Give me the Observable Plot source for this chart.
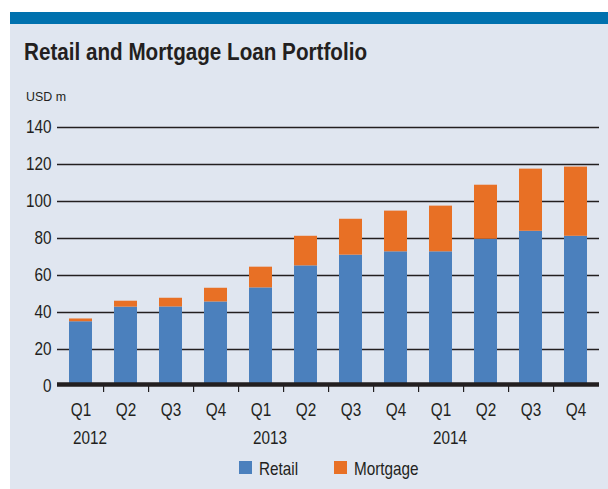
<!DOCTYPE html>
<html>
<head>
<meta charset="utf-8">
<script src="https://cdn.jsdelivr.net/npm/d3@7"></script>
<script src="https://cdn.jsdelivr.net/npm/@observablehq/plot@0.6"></script>
<style>
  html, body { margin: 0; padding: 0; background: #ffffff; }
  body { width: 608px; height: 489px; position: relative; overflow: hidden;
         font-family: "Liberation Sans", Arial, sans-serif; color: #231f20; }
  #panel { position: absolute; left: 10px; top: 12px; width: 598px; height: 477px; background: #e0e6f0; }
  #topbar { position: absolute; left: 10px; top: 12px; width: 598px; height: 12px; background: #0071ae; }
  .cond { position: absolute; line-height: 1; white-space: nowrap; transform-origin: 0 0; }
  #title { left: 24px; top: 41px; font-size: 23.5px; font-weight: bold; }
  #unit { left: 26px; top: 91px; font-size: 12.5px; }
  #chart { position: absolute; left: 0; top: 0; }
</style>
</head>
<body>
<div id="panel"></div>
<div id="topbar"></div>
<div id="title" class="cond">Retail and Mortgage Loan Portfolio</div>
<div id="unit" class="cond">USD m</div>
<div id="chart"></div>
<script>
const quarters = ["Q1","Q2","Q3","Q4","Q1","Q2","Q3","Q4","Q1","Q2","Q3","Q4"];
const years = ["2012","2012","2012","2012","2013","2013","2013","2013","2014","2014","2014","2014"];
const retail =   [35.0, 42.9, 43.0, 45.7, 53.3, 65.2, 71.0, 72.8, 72.8, 79.6, 83.9, 81.2];
const mortgage = [ 1.5,  3.2,  4.7,  7.4, 11.2, 16.0, 19.4, 22.0, 24.7, 29.2, 33.6, 37.4];
const seriesNames = ["Retail", "Mortgage"];
const seriesColors = ["#4b80bd", "#e87025"];
const yTicks = [0, 20, 40, 60, 80, 100, 120, 140];
const yearLabels = ["2012", "2013", "2014"];

const keys = quarters.map((q, i) => years[i] + " " + q);
const data = [];
keys.forEach((k, i) => {
  data.push({key: k, series: "Retail", value: retail[i]});
  data.push({key: k, series: "Mortgage", value: mortgage[i]});
});
const yearFirst = yearLabels.map(y => ({key: keys[years.indexOf(y)], year: y}));

const W = 608, H = 489, mL = 57, mR = 9;
const step = (W - mL - mR) / keys.length;
const ink = "#231f20";
const font = '"Liberation Sans", Arial, sans-serif';
const narrow = 0.85;

const chart = Plot.plot({
  width: W,
  height: H,
  marginLeft: mL,
  marginRight: mR,
  marginTop: 127,
  marginBottom: 103,
  style: {background: "transparent", fontFamily: font, fontSize: "18px", color: ink},
  x: {domain: keys, paddingInner: 0.49, paddingOuter: 0.245, axis: null},
  y: {domain: [0, 140], ticks: yTicks, axis: null},
  color: {domain: seriesNames, range: seriesColors},
  marks: [
    Plot.ruleY(yTicks.filter(d => d > 0), {stroke: ink, strokeWidth: 1.3}),
    Plot.barY(data, {x: "key", y: "value", fill: "series", order: seriesNames}),
    Plot.ruleY([0], {stroke: ink, strokeWidth: 4.5, dy: -2}),
    Plot.axisY({ticks: yTicks, tickSize: 0, tickPadding: 6, fontSize: 18, fill: ink, label: null}),
    Plot.axisX({ticks: keys.slice(0, -1), tickFormat: null, tickSize: 6, dx: step / 2, stroke: ink, strokeWidth: 1.2, text: null, label: null}),
    Plot.axisX({tickSize: 0, tickPadding: 17, tickFormat: k => k.split(" ")[1], fontSize: 18, fill: ink, label: null}),
    Plot.text(yearFirst, {x: "key", y: () => 0, text: "year", dy: 52, dx: -8, textAnchor: "start", fontSize: 18, fill: ink})
  ]
});

// legend drawn as part of the SVG
const svgNS = "http://www.w3.org/2000/svg";
const lg = document.createElementNS(svgNS, "g");
lg.setAttribute("font-size", "18");
lg.setAttribute("fill", ink);
lg.setAttribute("text-anchor", "start");
const legendX = [239, 334];
seriesNames.forEach((s, i) => {
  const r = document.createElementNS(svgNS, "rect");
  r.setAttribute("x", legendX[i]); r.setAttribute("y", 461);
  r.setAttribute("width", 13); r.setAttribute("height", 13);
  r.setAttribute("fill", seriesColors[i]);
  lg.appendChild(r);
  const t = document.createElementNS(svgNS, "text");
  t.setAttribute("transform", `translate(${legendX[i] + 20},475)`);
  t.setAttribute("text-anchor", "start");
  t.textContent = s;
  lg.appendChild(t);
});
chart.appendChild(lg);

// condensed look: horizontally narrow every text glyph run about its anchor
chart.querySelectorAll("text").forEach(t => {
  const tr = t.getAttribute("transform") || "";
  t.setAttribute("transform", (tr + ` scale(${narrow},1)`).trim());
});
document.getElementById("chart").appendChild(chart);

function fitWidth(id, target) {
  const el = document.getElementById(id);
  const w = el.getBoundingClientRect().width;
  el.style.transform = `scaleX(${target / w})`;
}
fitWidth("title", 343);
fitWidth("unit", 40);
</script>
</body>
</html>
